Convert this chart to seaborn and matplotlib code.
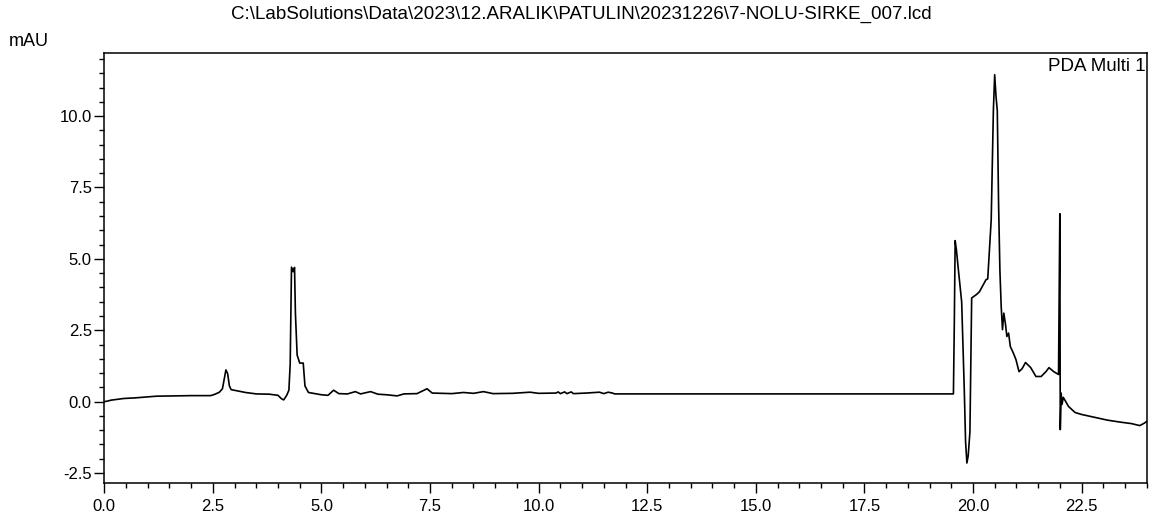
import matplotlib
matplotlib.use("Agg")
import matplotlib.pyplot as plt
from matplotlib.ticker import MultipleLocator, FormatStrFormatter
import seaborn as sns
import pandas as pd

# Retention time (min) and detector signal (mAU)
time_min = [
    0.00, 0.08, 0.15, 0.30, 0.45, 0.70, 0.95, 1.20, 1.60, 2.00, 2.45, 2.55,
    2.65, 2.72, 2.76, 2.80, 2.84, 2.88, 2.92, 3.05, 3.25, 3.50, 3.80, 4.00,
    4.08, 4.13, 4.20, 4.25, 4.28, 4.31, 4.35, 4.38, 4.40, 4.44, 4.50, 4.58,
    4.62, 4.70, 4.85, 5.00, 5.15, 5.28, 5.40, 5.60, 5.78, 5.90, 6.13, 6.30,
    6.50, 6.74, 6.90, 7.20, 7.43, 7.55, 8.00, 8.27, 8.50, 8.73, 8.95, 9.40,
    9.80, 10.00, 10.40, 10.45, 10.50, 10.60, 10.65, 10.75, 10.80, 11.10, 11.40, 11.50,
    11.60, 11.70, 11.75, 19.55, 19.57, 19.59, 19.62, 19.66, 19.74, 19.80, 19.83, 19.86,
    19.89, 19.93, 19.97, 20.08, 20.15, 20.30, 20.34, 20.37, 20.42, 20.47, 20.50, 20.53,
    20.56, 20.59, 20.62, 20.65, 20.68, 20.71, 20.75, 20.78, 20.82, 20.86, 20.93, 20.99,
    21.06, 21.13, 21.21, 21.33, 21.45, 21.57, 21.68, 21.75, 21.86, 21.97, 22.00, 22.01,
    22.03, 22.05, 22.08, 22.20, 22.35, 22.50, 22.65, 22.90, 23.10, 23.40, 23.65, 23.84,
    23.95, 24.00,
]
signal_mau = [
    0.00, 0.02, 0.05, 0.08, 0.11, 0.13, 0.16, 0.19, 0.20, 0.21, 0.21, 0.26,
    0.33, 0.45, 0.78, 1.11, 0.98, 0.55, 0.42, 0.38, 0.32, 0.27, 0.26, 0.22,
    0.10, 0.06, 0.22, 0.40, 1.32, 4.71, 4.55, 4.70, 3.10, 1.63, 1.35, 1.35,
    0.55, 0.32, 0.28, 0.24, 0.22, 0.40, 0.28, 0.27, 0.35, 0.27, 0.35, 0.26,
    0.24, 0.20, 0.27, 0.28, 0.45, 0.30, 0.28, 0.32, 0.29, 0.35, 0.28, 0.29,
    0.33, 0.29, 0.30, 0.34, 0.28, 0.34, 0.28, 0.34, 0.28, 0.30, 0.33, 0.28,
    0.33, 0.30, 0.27, 0.27, 2.68, 5.64, 5.30, 4.68, 3.49, 0.41, -1.41, -2.15,
    -1.90, -1.06, 3.63, 3.75, 3.85, 4.27, 4.30, 5.10, 6.37, 10.20, 11.45, 10.70,
    10.20, 6.90, 4.60, 3.33, 2.52, 3.10, 2.70, 2.28, 2.40, 1.93, 1.70, 1.47,
    1.05, 1.15, 1.37, 1.19, 0.88, 0.88, 1.05, 1.19, 1.05, 0.95, 6.58, -0.98,
    0.30, -0.10, 0.15, -0.17, -0.38, -0.45, -0.50, -0.58, -0.65, -0.72, -0.77, -0.84,
    -0.75, -0.69,
]

title_text = r"C:\LabSolutions\Data\2023\12.ARALIK\PATULIN\20231226\7-NOLU-SIRKE_007.lcd"
unit_label = "mAU"
channel_label = "PDA Multi 1"

df = pd.DataFrame({"time": time_min, "signal": signal_mau})

sns.set_style("ticks")
plt.rcParams["font.family"] = ["Liberation Sans", "DejaVu Sans"]

W, H = 1161, 520
fig = plt.figure(figsize=(W / 100, H / 100), dpi=100)
ax = fig.add_axes([104.3 / W, 1 - 482.7 / H, (1146.7 - 104.3) / W, (482.7 - 53.3) / H])

sns.lineplot(data=df, x="time", y="signal", ax=ax, color="black", linewidth=1.2,
             estimator=None, sort=False)

ax.set_xlim(0, 24.0)
ax.set_ylim(-2.84, 12.2)
ax.xaxis.set_major_locator(MultipleLocator(2.5))
ax.xaxis.set_minor_locator(MultipleLocator(0.5))
ax.yaxis.set_major_locator(MultipleLocator(2.5))
ax.yaxis.set_minor_locator(MultipleLocator(0.5))
ax.xaxis.set_major_formatter(FormatStrFormatter("%.1f"))
ax.yaxis.set_major_formatter(FormatStrFormatter("%.1f"))
ax.set_xlabel("")
ax.set_ylabel("")

for s in ax.spines.values():
    s.set_visible(True)
    s.set_linewidth(1.1)
    s.set_color("black")

ax.tick_params(axis="both", which="major", direction="out", length=7, width=1.0,
               labelsize=12, colors="black")
ax.tick_params(axis="x", which="major", pad=4.5)
ax.tick_params(axis="y", which="major", pad=2)
ax.tick_params(axis="both", which="minor", direction="out", length=3.5, width=1.0,
               colors="black")

fig.text(581 / W, 1 - 14 / H, title_text, ha="center", va="center", fontsize=13.5, color="black")
fig.text(9 / W, 1 - 42 / H, unit_label, ha="left", va="center", fontsize=13, color="black")
ax.text(0.9985, 0.988, channel_label, transform=ax.transAxes, ha="right", va="top",
        fontsize=13.5, color="black")

fig.savefig("out.png", dpi=100)
